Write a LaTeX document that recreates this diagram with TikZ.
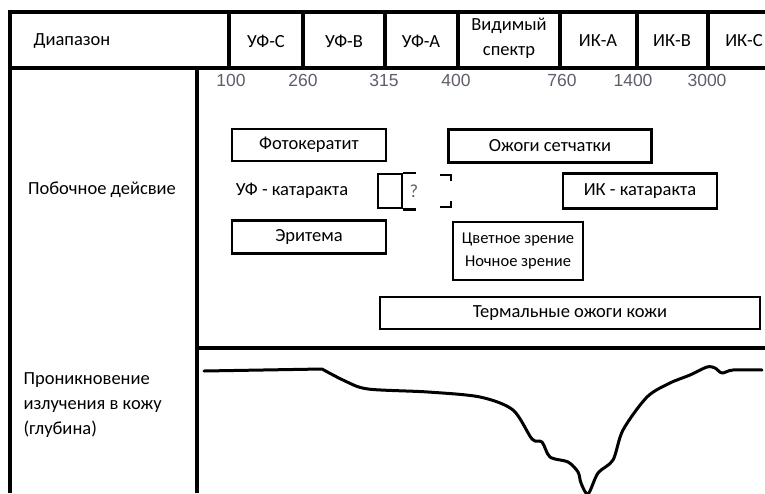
\documentclass[tikz,border=0pt]{standalone}
\usepackage{fontspec}
\setmainfont{Carlito}
\newfontfamily\numfont{Liberation Sans}
\usepackage{tikz}
\usetikzlibrary{positioning}
\definecolor{numcolor}{RGB}{100,90,110}

\begin{document}
\begin{tikzpicture}[
    x=1pt, y=-1pt,
    frameline/.style={line width=3.5pt},
    box/.style={draw, line width=2.5pt, inner sep=0pt, align=center, font=\fontsize{18.5}{25}\selectfont},
    txt/.style={align=center, font=\fontsize{18.5}{25}\selectfont},
    num/.style={text=numcolor, font=\numfont\fontsize{17.5}{20}\selectfont},
    curve/.style={line width=3pt, line join=round, line cap=round}
]
    \useasboundingbox (0,0) rectangle (765,493);

    % table frame
    \draw[frameline] (765,12) -- (10,12) -- (10,493);
    \draw[frameline] (10,68) -- (765,68);
    \draw[frameline] (197,68) -- (197,493);
    \draw[frameline] (197,348) -- (765,348);
    \draw[frameline] (229,12) -- (229,68) (303,12) -- (303,68) (385,12) -- (385,68)
        (458,12) -- (458,68) (560,12) -- (560,68) (637,12) -- (637,68) (708,12) -- (708,68);

    % header
    \node[txt] (range) at (72,41) {Диапазон};
    \node[txt] (uvc) at (266,41) {УФ-С};
    \node[txt] (uvb) at (344,41) {УФ-В};
    \node[txt] (uva) at (421,41) {УФ-А};
    \node[txt] (visible) at (509,38) {Видимый\\спектр};
    \node[txt] (ira) at (598,41) {ИК-А};
    \node[txt] (irb) at (672,41) {ИК-В};
    \node[txt] (irc) at (744,41) {ИК-С};

    % wavelengths
    \node[num] (n100) at (231,80) {100};
    \node[num] (n260) at (303,80) {260};
    \node[num] (n315) at (384,80) {315};
    \node[num] (n400) at (456,80) {400};
    \node[num] (n760) at (562,80) {760};
    \node[num] (n1400) at (633,80) {1400};
    \node[num] (n3000) at (707,80) {3000};

    % side effects
    \node[txt] (side) at (102,190) {Побочное дейсвие};
    \node[box, minimum width=154pt, minimum height=32pt] (photo) at (309,145) {Фотокератит};
    \node[txt] (uvcat) at (292,191) {УФ - катаракта};
    \node[box, minimum width=154pt, minimum height=33pt] (erythema) at (309,237) {Эритема};
    \node[draw, line width=2.5pt, minimum width=24pt, minimum height=34pt] (qbox) at (390,191) {};
    \draw[line width=2.5pt] (qbox.north east) -- ++(13,0) (qbox.south east) -- ++(13,0);
    \node[txt, text=numcolor] (qmark) at (414,191) {?};
    \draw[line width=2.5pt] (440,175) -- (451,175) -- (451,181) (440,207) -- (451,207) -- (451,201);
    \node[box, minimum width=203pt, minimum height=33pt] (retina) at (550,146) {Ожоги сетчатки};
    \node[box, minimum width=154pt, minimum height=35pt] (ircat) at (640,191) {ИК - катаракта};
    \node[box, minimum width=130pt, minimum height=58pt, font=\fontsize{16.5}{23}\selectfont] (vision) at (518,251) {Цветное зрение\\Ночное зрение};
    \node[box, minimum width=380pt, minimum height=32pt] (thermal) at (570,313) {Термальные ожоги кожи};

    % penetration depth
    \node[txt, align=left, anchor=west] (depth) at (20,405) {Проникновение\\излучения в кожу\\(глубина)};
    \draw[curve] (204,371) -- (322,369) plot[smooth, tension=0.5] coordinates {(322,369) (345,381)
        (368,389) (428,392) (480,397) (513,410) (532,439) (542,442) (550,457) (568,462) (578,472)
        (581,483) (588,494) (598,473) (613,460) (623,430) (647,397) (670,383) (690,375) (707,367)
        (715,368) (722,373) (733,370) (762,370)};
\end{tikzpicture}
\end{document}
